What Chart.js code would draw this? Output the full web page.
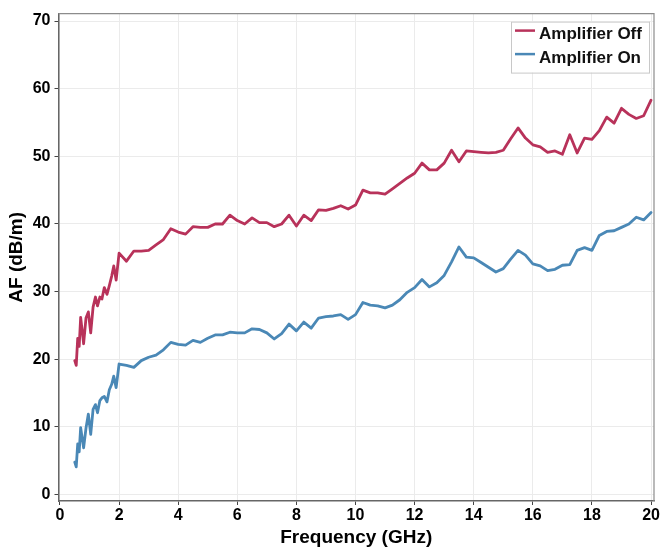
<!DOCTYPE html>
<html>
<head>
<meta charset="utf-8">
<script src="https://cdn.jsdelivr.net/npm/chart.js@4/dist/chart.umd.min.js"></script>
<style>
  html, body { margin: 0; padding: 0; background: #fff; }
  #wrap { width: 664px; height: 552px; }
</style>
</head>
<body>
<div id="wrap"><canvas id="grafico" width="664" height="552"></canvas></div>
<script>
// Frequências (GHz): passo fino até 2 GHz, depois de 0.25 em 0.25
const freqBaixas = [0.5, 0.55, 0.6, 0.65, 0.7, 0.8, 0.88, 0.96, 1.04, 1.12, 1.2, 1.27, 1.35, 1.42, 1.5, 1.59, 1.67, 1.75, 1.82, 1.9];
const freqAltas = [
  2.0, 2.25, 2.5, 2.75, 3.0, 3.25, 3.5, 3.75, 4.0, 4.25, 4.5, 4.75, 5.0, 5.25, 5.5, 5.75,
  6.0, 6.25, 6.5, 6.75, 7.0, 7.25, 7.5, 7.75, 8.0, 8.25, 8.5, 8.75, 9.0, 9.25, 9.5, 9.75,
  10.0, 10.25, 10.5, 10.75, 11.0, 11.25, 11.5, 11.75, 12.0, 12.25, 12.5, 12.75, 13.0, 13.25, 13.5, 13.75,
  14.0, 14.25, 14.5, 14.75, 15.0, 15.25, 15.5, 15.75, 16.0, 16.25, 16.5, 16.75, 17.0, 17.25, 17.5, 17.75,
  18.0, 18.25, 18.5, 18.75, 19.0, 19.25, 19.5, 19.75, 20.0
];
const frequencias = freqBaixas.concat(freqAltas);

// AF (dB/m) - amplificador desligado
const afOff = [
  19.8, 19.1, 23.1, 21.9, 26.2, 22.3, 26.1, 27.0, 23.9, 27.7, 29.2, 27.9, 29.2, 28.9, 30.6, 29.6, 30.9, 32.3, 33.8, 31.7,
  35.7, 34.5, 36.0, 36.0, 36.1, 36.9, 37.7, 39.3, 38.8, 38.5, 39.6, 39.5, 39.5, 40.0, 40.0, 41.3,
  40.5, 40.0, 40.9, 40.2, 40.2, 39.6, 40.0, 41.3, 39.7, 41.3, 40.5, 42.1, 42.0, 42.3, 42.7, 42.2,
  42.8, 45.0, 44.6, 44.6, 44.4, 45.2, 46.0, 46.8, 47.5, 49.0, 48.0, 48.0, 49.0, 50.9, 49.2, 50.8,
  50.7, 50.6, 50.5, 50.6, 50.9, 52.6, 54.2, 52.7, 51.7, 51.4, 50.6, 50.8, 50.3, 53.2, 50.5, 52.7,
  52.5, 53.8, 55.8, 54.9, 57.1, 56.2, 55.6, 56.0, 58.3
];

// AF (dB/m) - amplificador ligado
const afOn = [
  4.8, 4.1, 7.5, 6.3, 9.9, 6.9, 9.8, 11.9, 8.9, 12.6, 13.3, 12.1, 13.9, 14.3, 14.5, 13.7, 15.5, 16.3, 17.5, 15.8,
  19.3, 19.1, 18.8, 19.8, 20.3, 20.6, 21.4, 22.5, 22.2, 22.1, 22.8, 22.5, 23.1, 23.6, 23.6, 24.0,
  23.9, 23.9, 24.5, 24.4, 23.9, 23.0, 23.8, 25.2, 24.2, 25.5, 24.6, 26.1, 26.3, 26.4, 26.6, 25.9,
  26.6, 28.4, 28.0, 27.9, 27.6, 28.0, 28.8, 29.9, 30.6, 31.8, 30.7, 31.3, 32.4, 34.4, 36.6, 35.1,
  35.0, 34.3, 33.6, 32.9, 33.4, 34.8, 36.1, 35.4, 34.1, 33.8, 33.1, 33.3, 33.9, 34.0, 36.1, 36.5,
  36.1, 38.3, 38.9, 39.0, 39.5, 40.0, 41.0, 40.6, 41.7
];

const ticksX = [0, 2, 4, 6, 8, 10, 12, 14, 16, 18, 20];
const ticksY = [0, 10, 20, 30, 40, 50, 60, 70];

const series = ['Amplifier Off', 'Amplifier On'];
const cores = ['#b8325a', '#4a88b6'];

const fonte = '"Liberation Sans", Arial, Helvetica, sans-serif';

function pontos(valores) {
  return frequencias.map((f, i) => ({ x: f, y: valores[i] }));
}

// moldura + legenda dentro da área do gráfico
const molduraLegenda = {
  id: 'molduraLegenda',
  afterDraw(chart) {
    const { ctx, chartArea: a } = chart;
    ctx.save();
    ctx.strokeStyle = '#8c8c8c';
    ctx.lineWidth = 1.2;
    ctx.beginPath();
    ctx.moveTo(a.left, a.top);
    ctx.lineTo(a.right, a.top);
    ctx.lineTo(a.right, a.bottom);
    ctx.stroke();

    // caixa da legenda
    const bx = a.right - 143, by = a.top + 8, bw = 138, bh = 51;
    ctx.fillStyle = '#fff';
    ctx.fillRect(bx, by, bw, bh);
    ctx.strokeStyle = '#c8c8c8';
    ctx.lineWidth = 1;
    ctx.strokeRect(bx + 0.5, by + 0.5, bw, bh);

    ctx.font = 'bold 17px ' + fonte;
    ctx.textBaseline = 'middle';
    ctx.textAlign = 'left';
    series.forEach((nome, i) => {
      const ly = by + 9 + i * 23.5;
      ctx.strokeStyle = cores[i];
      ctx.lineWidth = 2.5;
      ctx.beginPath();
      ctx.moveTo(bx + 4, ly);
      ctx.lineTo(bx + 24, ly);
      ctx.stroke();
      ctx.fillStyle = '#111';
      ctx.fillText(nome, bx + 28, ly + 4);
    });
    ctx.restore();
  }
};

new Chart(document.getElementById('grafico').getContext('2d'), {
  type: 'line',
  data: {
    datasets: series.map((nome, i) => ({
      label: nome,
      data: pontos(i === 0 ? afOff : afOn),
      borderColor: cores[i],
      backgroundColor: cores[i],
      borderWidth: 2.8,
      borderJoinStyle: 'round',
      borderCapStyle: 'round',
      pointRadius: 0,
      tension: 0,
      fill: false
    }))
  },
  options: {
    responsive: false,
    animation: false,
    layout: { padding: { top: 8, right: 10, left: 0, bottom: 0 } },
    plugins: { legend: { display: false }, tooltip: { enabled: false } },
    scales: {
      x: {
        type: 'linear',
        min: -0.05,
        max: 20.1,
        afterBuildTicks: s => { s.ticks = ticksX.map(v => ({ value: v })); },
        afterFit: s => { s.height = 51; },
        grid: { color: '#ebebeb', lineWidth: 1, tickColor: '#444', tickLength: 4 },
        border: { color: '#666', width: 1.5 },
        ticks: { color: '#000', font: { family: fonte, size: 16, weight: 'bold' }, padding: 1, maxRotation: 0 },
        title: {
          display: true,
          text: 'Frequency (GHz)',
          color: '#000',
          font: { family: fonte, size: 19, weight: 'bold' },
          padding: { top: 0, bottom: 3 }
        }
      },
      y: {
        min: -0.95,
        max: 71.1,
        afterBuildTicks: s => { s.ticks = ticksY.map(v => ({ value: v })); },
        afterFit: s => { s.width = 58.5; },
        grid: { color: '#ebebeb', lineWidth: 1, tickColor: '#444', tickLength: 4 },
        border: { color: '#666', width: 1.5 },
        ticks: { color: '#000', font: { family: fonte, size: 16, weight: 'bold' }, padding: 4 },
        title: {
          display: true,
          text: 'AF (dB/m)',
          color: '#000',
          font: { family: fonte, size: 19, weight: 'bold' },
          padding: { top: 5, bottom: 0 }
        }
      }
    }
  },
  plugins: [molduraLegenda]
});
</script>
</body>
</html>
